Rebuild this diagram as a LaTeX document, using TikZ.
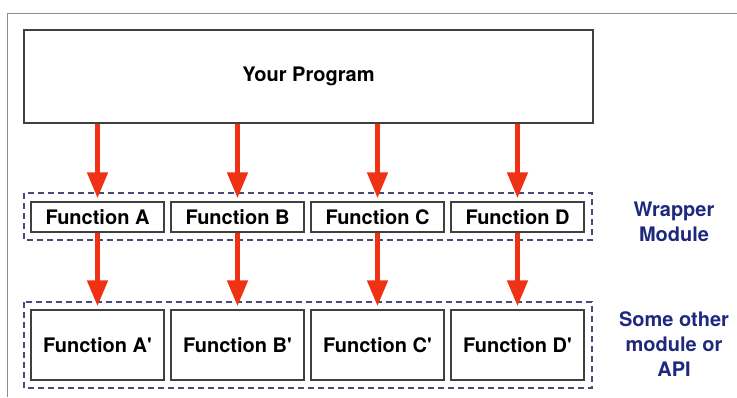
\documentclass[tikz,border=0pt]{standalone}
\usepackage{fontspec}
\newfontfamily\hv{TeX Gyre Heros}
\usetikzlibrary{arrows.meta}
\definecolor{arrred}{RGB}{240,50,20}
\definecolor{navy}{RGB}{30,40,125}
\definecolor{dashblue}{RGB}{70,75,120}
\tikzset{
  fbox/.style={draw=black!75, line width=1.5pt, fill=white, inner sep=0pt,
    minimum width=133pt, minimum height=30pt},
  apibox/.style={fbox, minimum height=70pt},
  modbox/.style={draw=dashblue, line width=1.5pt, dash pattern=on 6pt off 4pt},
  arr/.style={draw=arrred, line width=5pt, -{Triangle[length=26pt,width=20pt]}, shorten >=3pt},
  lbl/.style={text=navy, align=center}
}
\begin{document}
\begin{tikzpicture}[x=1pt,y=-1pt,font=\hv\bfseries\fontsize{20}{25}\selectfont]
\useasboundingbox (0,0) rectangle (737,397);
\draw[black!45, line width=1pt] (737,13) -- (7,13) -- (7,397);
% module frames
\draw[modbox] (24,193) rectangle (592,240);
\draw[modbox] (24,302) rectangle (592,388);
\node[fbox, minimum width=569pt, minimum height=93pt] (prog) at (308.5,76.5) {Your Program};
\node[fbox] (fa) at (97.5,217) {Function A};
\node[fbox] (fb) at (237.5,217) {Function B};
\node[fbox] (fc) at (377.5,217) {Function C};
\node[fbox] (fd) at (517.5,217) {Function D};
\node[apibox] (pa) at (97.5,345) {Function A'};
\node[apibox] (pb) at (237.5,345) {Function B'};
\node[apibox] (pc) at (377.5,345) {Function C'};
\node[apibox] (pd) at (517.5,345) {Function D'};
\node[lbl] (wrap) at (674,222) {Wrapper\\Module};
\node[lbl] (other) at (674,344) {Some other\\module or\\API};
% calls
\draw[arr] (prog.south -| fa.north) -- (fa.north);
\draw[arr] (prog.south -| fb.north) -- (fb.north);
\draw[arr] (prog.south -| fc.north) -- (fc.north);
\draw[arr] (prog.south -| fd.north) -- (fd.north);
\draw[arr] (fa.south) -- (pa.north);
\draw[arr] (fb.south) -- (pb.north);
\draw[arr] (fc.south) -- (pc.north);
\draw[arr] (fd.south) -- (pd.north);
\end{tikzpicture}
\end{document}
